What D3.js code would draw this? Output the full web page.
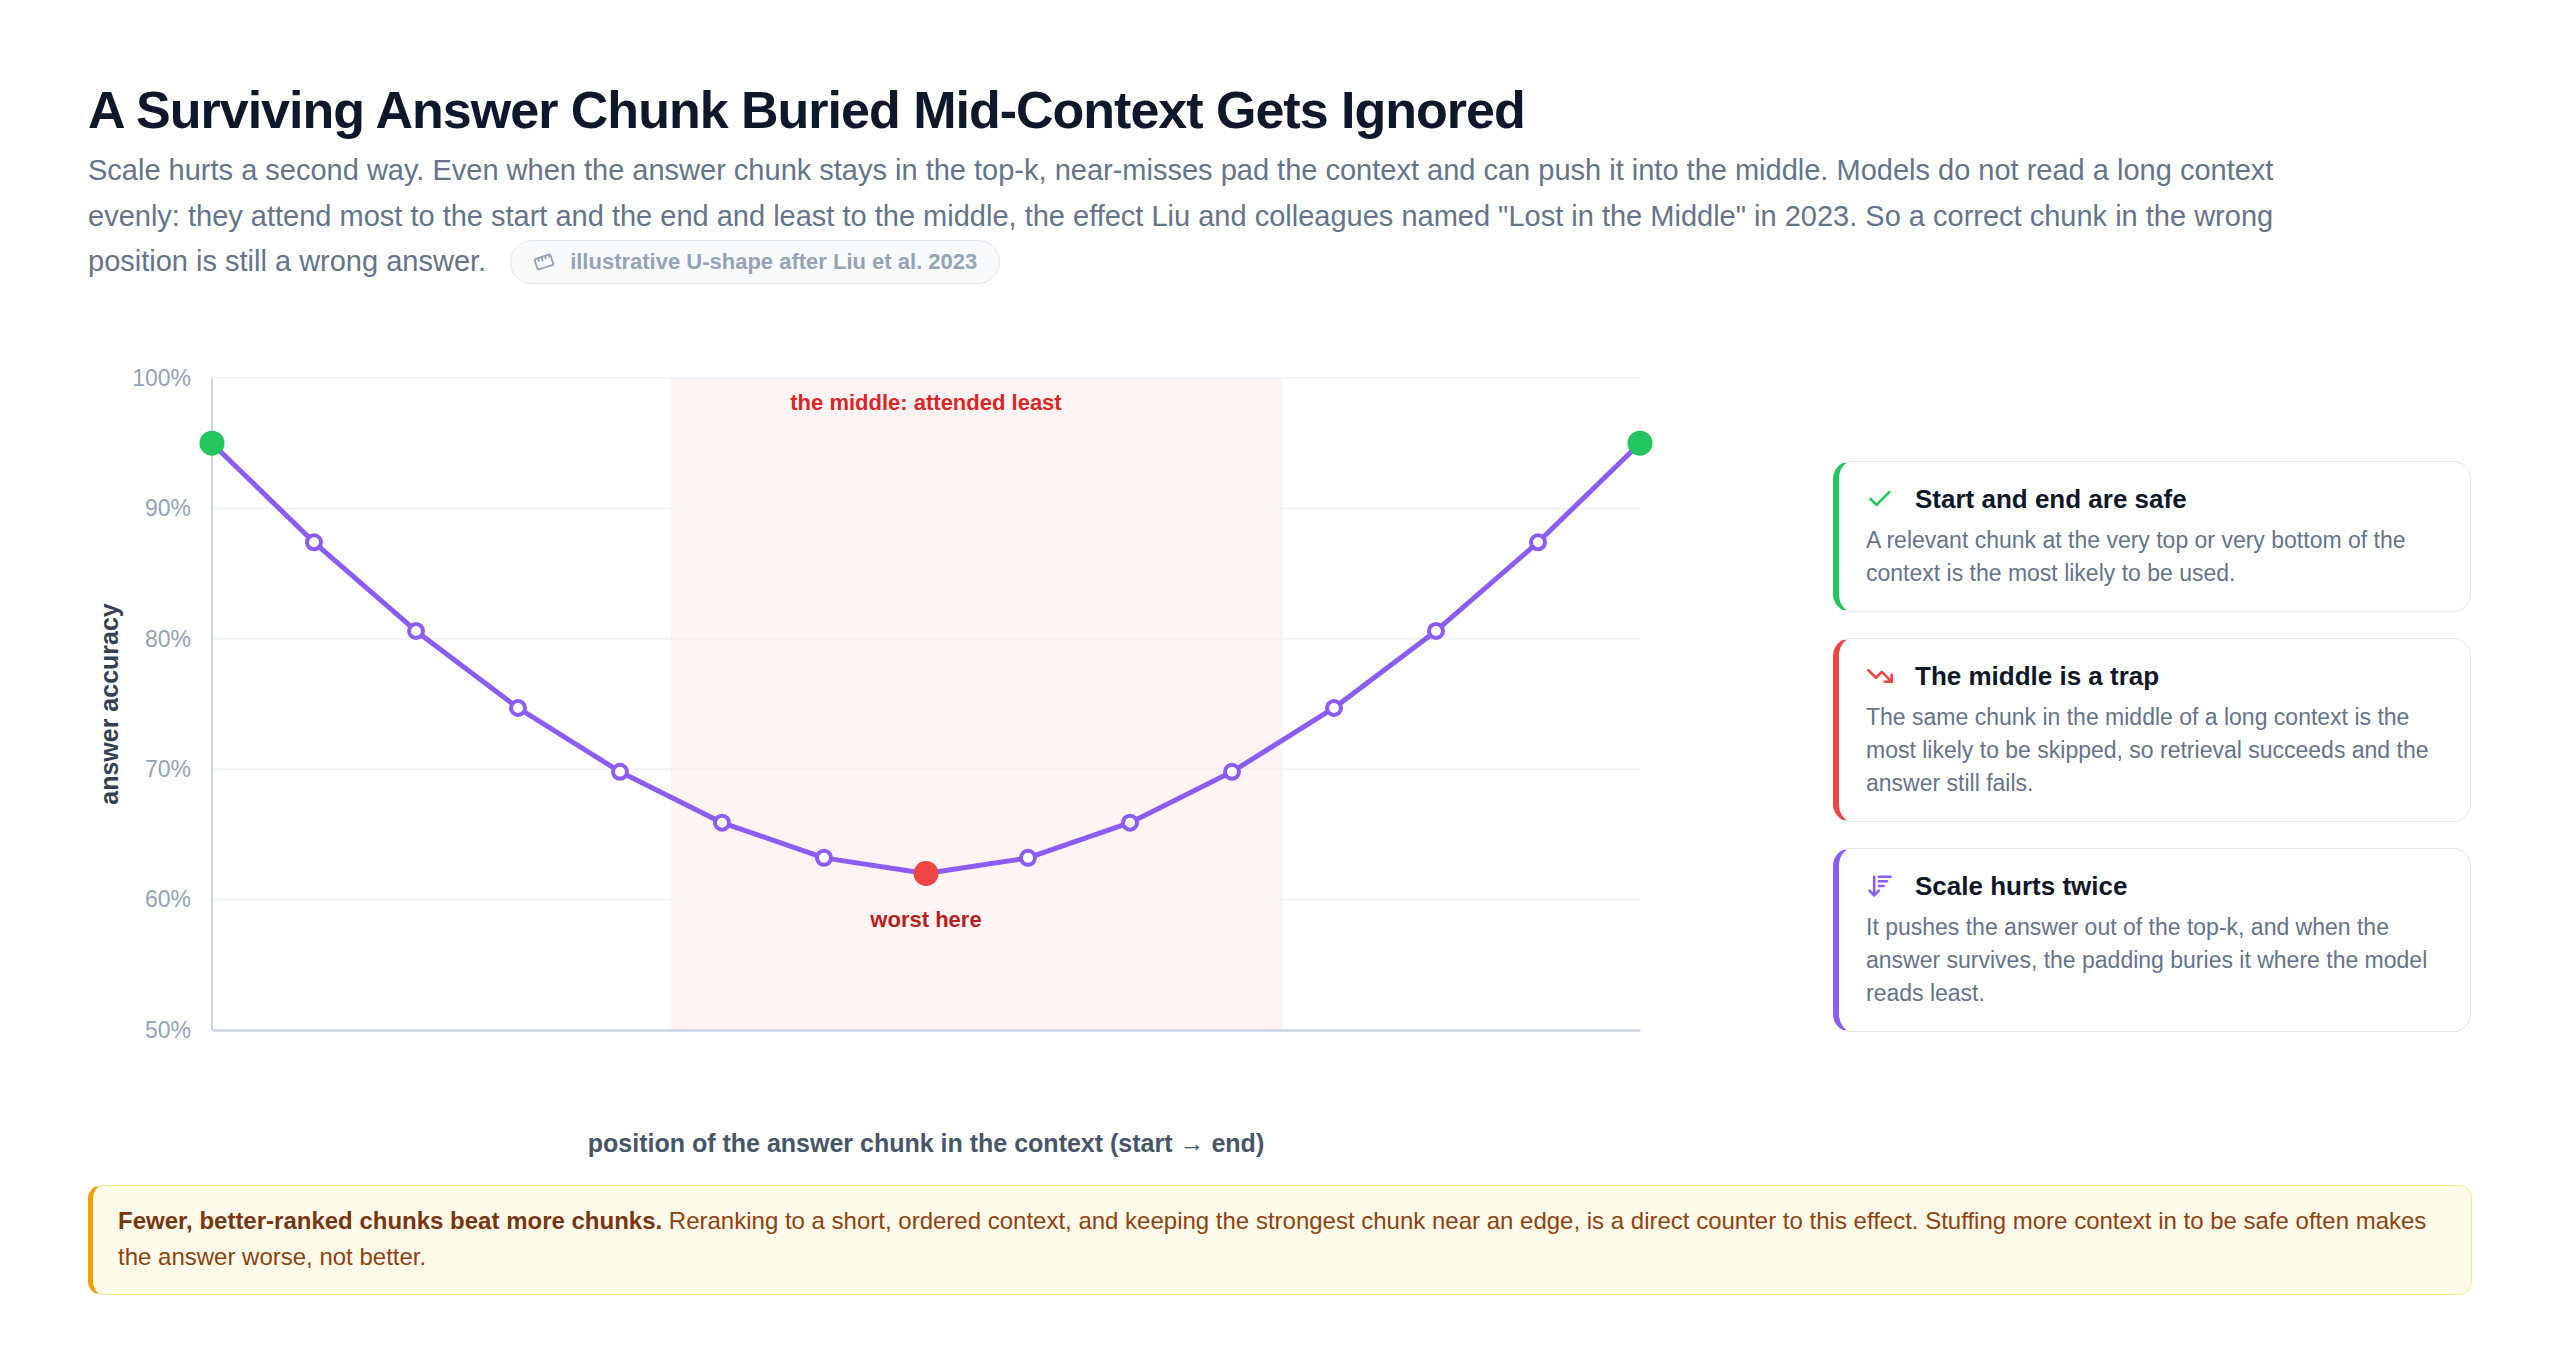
<!DOCTYPE html>
<html>
<head>
<meta charset="utf-8">
<script src="https://cdn.jsdelivr.net/npm/d3@7"></script>
<style>
  body { margin: 0; background: #fff; font-family: "Liberation Sans", Arial, Helvetica, sans-serif; }
  #title { position: absolute; left: 88px; top: 79px; margin: 0; font-size: 52px; line-height: 62.4px;
           font-weight: 700; letter-spacing: -1px; color: #0f172a; white-space: nowrap; }
  #lede { position: absolute; left: 88px; top: 148px; margin: 0; width: 2240px; font-size: 29px;
          line-height: 45.5px; color: #64748b; }
  .pill { display: inline-flex; align-items: center; box-sizing: border-box; height: 44px; padding: 0 22px;
          margin-left: 24px; border: 1.5px solid #e2e8f0; border-radius: 22px; background: #f8fafc;
          font-size: 22px; line-height: 22px; font-weight: 700; color: #94a3b8; vertical-align: middle;
          position: relative; top: -1.5px; }
  .pill svg { margin-right: 15px; }
  #chart { position: absolute; left: 88px; top: 330px; }
  #cards { position: absolute; left: 1833px; top: 461px; width: 638px; }
  .card { box-sizing: border-box; width: 638px; margin-bottom: 26px; background: #fff;
          border: 1.5px solid #e2e8f0; border-left-width: 6px; border-radius: 18px; padding: 20px 31px 21px 27px; }
  .card .head { display: flex; align-items: center; height: 34px; font-size: 26px; font-weight: 700; color: #0f172a; }
  .card .head svg { margin-right: 21px; flex: none; }
  .card .body { margin-top: 8px; font-size: 23px; line-height: 33px; color: #64748b; }
  #note { position: absolute; left: 88px; top: 1185px; width: 2384px; box-sizing: border-box;
          background: #fffbeb; border: 1.5px solid #fde68a; border-left: 5px solid #f59e0b; border-radius: 14px;
          padding: 17px 30px 19px 25px; font-size: 24px; line-height: 36px; color: #92400e; }
  #note b { color: #78350f; }
</style>
</head>
<body>
<h1 id="title">A Surviving Answer Chunk Buried Mid-Context Gets Ignored</h1>
<p id="lede">Scale hurts a second way. Even when the answer chunk stays in the top-k, near-misses pad the context and can push it into the middle. Models do not read a long context evenly: they attend most to the start and the end and least to the middle, the effect Liu and colleagues named "Lost in the Middle" in 2023. So a correct chunk in the wrong position is still a wrong answer.<span class="pill"><svg width="22" height="22" viewBox="0 0 24 24" fill="none" stroke="#94a3b8" stroke-width="2" stroke-linejoin="round" stroke-linecap="round"><g transform="rotate(-18 12 12)"><rect x="3" y="6" width="18" height="12" rx="1.5"/><path d="M7 6v3M11 6v4M15 6v3M19 6v2"/></g></svg>illustrative U-shape after Liu et al. 2023</span></p>
<div id="chart"></div>
<div id="cards"></div>
<div id="note"><b>Fewer, better-ranked chunks beat more chunks.</b> Reranking to a short, ordered context, and keeping the strongest chunk near an edge, is a direct counter to this effect. Stuffing more context in to be safe often makes the answer worse, not better.</div>

<script>
// chart values
const positions = [1, 2, 3, 4, 5, 6, 7, 8, 9, 10, 11, 12, 13, 14, 15];
const accuracy = [95, 87.4, 80.6, 74.7, 69.8, 65.9, 63.2, 62.0, 63.2, 65.9, 69.8, 74.7, 80.6, 87.4, 95];
const yTicks = [50, 60, 70, 80, 90, 100];
const middleBand = [5.5, 11.5];
const bandLabel = "the middle: attended least";
const worstLabel = "worst here";
const xTitle = "position of the answer chunk in the context (start \u2192 end)";
const yTitle = "answer accuracy";

const cardTitles = ["Start and end are safe", "The middle is a trap", "Scale hurts twice"];
const cardTexts = [
    "A relevant chunk at the very top or very bottom of the context is the most likely to be used.",
    "The same chunk in the middle of a long context is the most likely to be skipped, so retrieval succeeds and the answer still fails.",
    "It pushes the answer out of the top-k, and when the answer survives, the padding buries it where the model reads least."
];

var width = 1712, height = 850;
var margin = { top: 48, right: 160, bottom: 150, left: 124 };
var violet = "#8b5cf6", green = "#22c55e", red = "#ef4444";

var svg = d3.select("#chart").append("svg")
    .attr("width", width)
    .attr("height", height)
    .style("font-family", '"Liberation Sans", Arial, Helvetica, sans-serif');

var x = d3.scaleLinear()
    .domain([positions[0], positions[positions.length - 1]])
    .range([margin.left, width - margin.right]);
var y = d3.scaleLinear()
    .domain([yTicks[0], yTicks[yTicks.length - 1]])
    .range([height - margin.bottom, margin.top]);

// shaded middle
svg.append("rect")
    .attr("x", x(middleBand[0]))
    .attr("y", y(100))
    .attr("width", x(middleBand[1]) - x(middleBand[0]))
    .attr("height", y(50) - y(100))
    .attr("fill", "#ef4444")
    .attr("fill-opacity", 0.06);

// grid
svg.append("g")
    .selectAll("line")
    .data(yTicks.slice(1))
    .enter()
    .append("line")
    .attr("x1", x.range()[0]).attr("x2", x.range()[1])
    .attr("y1", d => y(d)).attr("y2", d => y(d))
    .attr("stroke", "#eef2f6")
    .attr("stroke-width", 1.5);

// y axis labels
var yAxis = svg.append("g")
    .attr("transform", "translate(" + margin.left + ",0)")
    .call(d3.axisLeft(y).tickValues(yTicks).tickSize(0).tickPadding(21).tickFormat(d => d + "%"));
yAxis.select(".domain").remove();
yAxis.selectAll("text")
    .attr("fill", "#94a3b8")
    .style("font-size", "23px")
    .style("font-family", '"Liberation Sans", Arial, Helvetica, sans-serif');

// axis lines
svg.append("line")
    .attr("x1", x.range()[0]).attr("x2", x.range()[0])
    .attr("y1", y(100)).attr("y2", y(50))
    .attr("stroke", "#cbd5e1").attr("stroke-width", 2);
var xAxis = svg.append("g")
    .attr("transform", "translate(0," + y(50) + ")")
    .call(d3.axisBottom(x).tickValues([]).tickSizeOuter(0));
xAxis.select(".domain").attr("stroke", "#cbd5e1").attr("stroke-width", 2.5);

// axis titles
svg.append("text")
    .attr("x", (x.range()[0] + x.range()[1]) / 2)
    .attr("y", 822)
    .attr("text-anchor", "middle")
    .attr("fill", "#475569")
    .style("font-size", "25px")
    .style("font-weight", 700)
    .text(xTitle);
svg.append("text")
    .attr("transform", "translate(30," + (y(75)) + ") rotate(-90)")
    .attr("text-anchor", "middle")
    .attr("fill", "#334155")
    .style("font-size", "25px")
    .style("font-weight", 700)
    .text(yTitle);

// line
var pts = positions.map((p, i) => ({ pos: p, acc: accuracy[i], i: i }));
var minAcc = d3.min(accuracy);
var line = d3.line()
    .x(d => x(d.pos))
    .y(d => y(d.acc));
svg.append("path")
    .datum(pts)
    .attr("d", line)
    .attr("fill", "none")
    .attr("stroke", violet)
    .attr("stroke-width", 5)
    .attr("stroke-linejoin", "round");

// markers
svg.append("g")
    .selectAll("circle")
    .data(pts)
    .enter()
    .append("circle")
    .attr("cx", d => x(d.pos))
    .attr("cy", d => y(d.acc))
    .attr("r", d => (d.i == 0 || d.i == pts.length - 1 || d.acc == minAcc) ? 12.5 : 7)
    .attr("fill", d => (d.i == 0 || d.i == pts.length - 1) ? green : (d.acc == minAcc ? red : "#fff"))
    .attr("stroke", d => (d.i == 0 || d.i == pts.length - 1 || d.acc == minAcc) ? "none" : violet)
    .attr("stroke-width", 4);

// annotations
var worst = pts.find(d => d.acc == minAcc);
svg.append("text")
    .attr("x", x(worst.pos))
    .attr("y", y(100) + 32)
    .attr("text-anchor", "middle")
    .attr("fill", "#dc2626")
    .style("font-size", "22px")
    .style("font-weight", 700)
    .text(bandLabel);
svg.append("text")
    .attr("x", x(worst.pos))
    .attr("y", y(worst.acc) + 53)
    .attr("text-anchor", "middle")
    .attr("fill", "#b91c1c")
    .style("font-size", "22px")
    .style("font-weight", 700)
    .text(worstLabel);

// side cards
var cardColors = [green, red, violet];
var icons = [
    '<polyline points="20 6 9 17 4 12"/>',
    '<polyline points="22 17 13.5 8.5 8.5 13.5 2 7"/><polyline points="16 17 22 17 22 11"/>',
    '<path d="M3 16l4 4 4-4"/><path d="M7 20V4"/><path d="M11 4h10"/><path d="M11 8h7"/><path d="M11 12h4"/>'
];
var cards = d3.select("#cards")
    .selectAll(".card")
    .data(cardTitles)
    .enter()
    .append("div")
    .attr("class", "card")
    .style("border-left-color", (d, i) => cardColors[i]);
var head = cards.append("div").attr("class", "head");
head.append("svg")
    .attr("width", 28).attr("height", 28)
    .attr("viewBox", "0 0 24 24")
    .attr("fill", "none")
    .attr("stroke", (d, i) => cardColors[i])
    .attr("stroke-width", 2.2)
    .attr("stroke-linecap", "round")
    .attr("stroke-linejoin", "round")
    .html((d, i) => icons[i]);
head.append("span").text(d => d);
cards.append("div").attr("class", "body").text((d, i) => cardTexts[i]);
</script>
</body>
</html>
